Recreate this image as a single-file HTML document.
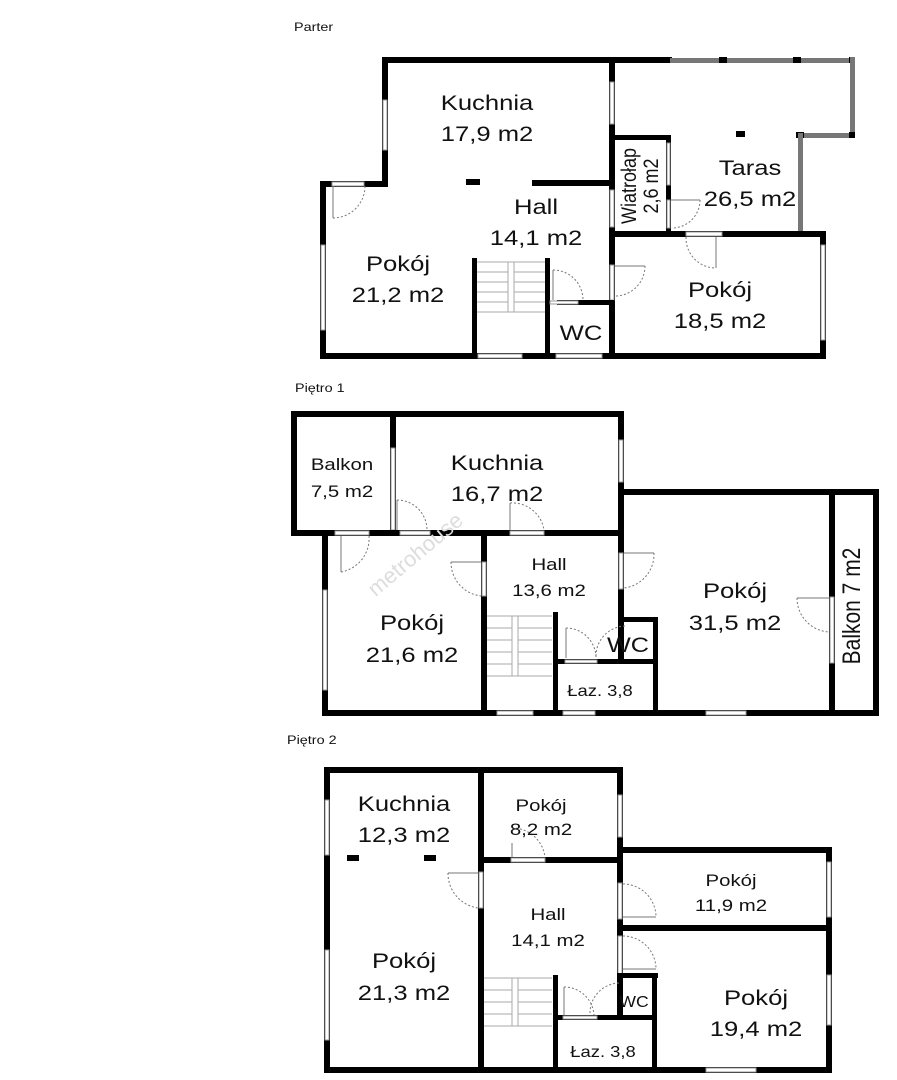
<!DOCTYPE html>
<html><head><meta charset="utf-8"><style>
html,body{margin:0;padding:0;background:#fff;}
svg{display:block;}
text{font-family:"Liberation Sans",Arial,sans-serif;fill:#111;}
.w{fill:#000}
.g{fill:#777}
.win{fill:#fff;stroke:#999;stroke-width:1}
.d{fill:none;stroke:#777;stroke-width:1;stroke-dasharray:2,2}
.dl{fill:none;stroke:#777;stroke-width:1}
</style></head><body>
<svg width="897" height="1080" viewBox="0 0 897 1080">
<text transform="translate(294,31) scale(1.2,1)" font-size="12">Parter</text>
<text transform="translate(295,392) scale(1.2,1)" font-size="12">Piętro 1</text>
<text transform="translate(287,744) scale(1.2,1)" font-size="12">Piętro 2</text>

<!-- PARTER -->
<rect class="w" x="382" y="57" width="290" height="6"/>
<rect class="g" x="670" y="58" width="185" height="5"/>
<rect class="w" x="719" y="57" width="8" height="6"/><rect class="w" x="793" y="57" width="8" height="6"/><rect class="w" x="849" y="57" width="6" height="6"/>
<rect class="g" x="850" y="57" width="5" height="80"/>
<rect class="g" x="798" y="133" width="57" height="5"/>
<rect class="w" x="849" y="132" width="6" height="6"/><rect class="w" x="796" y="132" width="8" height="6"/>
<rect class="g" x="798" y="133" width="5" height="100"/>
<rect class="w" x="736" y="131" width="9" height="6"/>
<rect class="w" x="382" y="57" width="6" height="130"/>
<rect class="win" x="383" y="100" width="4" height="50"/>
<rect class="w" x="320" y="181" width="68" height="6"/>
<rect class="win" x="332" y="182" width="32" height="4"/>
<rect class="w" x="320" y="181" width="6" height="178"/>
<rect class="win" x="321" y="245" width="4" height="85"/>
<rect class="w" x="320" y="353" width="506" height="6"/>
<rect class="win" x="478" y="354" width="44" height="4"/>
<rect class="win" x="556" y="354" width="46" height="4"/>
<rect class="w" x="609" y="57" width="6" height="302"/>
<rect class="win" x="610" y="82" width="4" height="42"/>
<rect class="win" x="610" y="190" width="4" height="37"/>
<rect class="win" x="610" y="265" width="4" height="35"/>
<rect class="w" x="532" y="180" width="80" height="6"/>
<rect class="w" x="466" y="179" width="14" height="6"/>
<rect class="w" x="609" y="135" width="62" height="5"/>
<rect class="w" x="666" y="135" width="5" height="100"/>
<rect class="win" x="667" y="143" width="3" height="42"/>
<rect class="win" x="667" y="200" width="3" height="28"/>
<rect class="w" x="609" y="231" width="217" height="6"/>
<rect class="win" x="686" y="232" width="36" height="4"/>
<rect class="w" x="820" y="231" width="6" height="128"/>
<rect class="win" x="821" y="245" width="4" height="95"/>
<rect class="w" x="472" y="258" width="5" height="100"/>
<rect class="w" x="545" y="258" width="5" height="100"/>
<rect class="w" x="557" y="300" width="57" height="5"/>
<rect class="win" x="550" y="301" width="28" height="3"/>
<g stroke="#aaa" stroke-width="1">
<line x1="477" y1="262" x2="545" y2="262"/><line x1="477" y1="272" x2="508" y2="272"/><line x1="477" y1="282" x2="508" y2="282"/><line x1="477" y1="292" x2="508" y2="292"/><line x1="477" y1="302" x2="508" y2="302"/><line x1="477" y1="312" x2="545" y2="312"/>
<line x1="514" y1="272" x2="545" y2="272"/><line x1="514" y1="282" x2="545" y2="282"/><line x1="514" y1="292" x2="545" y2="292"/><line x1="514" y1="302" x2="545" y2="302"/>
<rect x="508" y="262" width="6" height="50" fill="none"/>
</g>
<path class="dl" d="M333 186 V218"/><path class="d" d="M333 218 A32 32 0 0 0 365 186"/>
<path class="dl" d="M553 270 V300"/><path class="d" d="M553 270 A30 30 0 0 1 583 300"/>
<path class="dl" d="M615 266 H645"/><path class="d" d="M645 266 A30 30 0 0 1 615 296"/>
<path class="dl" d="M671 200 H700"/><path class="d" d="M700 200 A28 28 0 0 1 672 228"/>
<path class="dl" d="M716 237 V268"/><path class="d" d="M686 237 A30 30 0 0 0 716 268"/>
<g font-size="21" text-anchor="middle">
<text transform="translate(487,110) scale(1.22,1)">Kuchnia</text>
<text transform="translate(487,141) scale(1.22,1)">17,9 m2</text>
<text transform="translate(536,214) scale(1.22,1)">Hall</text>
<text transform="translate(536,245) scale(1.22,1)">14,1 m2</text>
<text transform="translate(398,271) scale(1.22,1)">Pokój</text>
<text transform="translate(398,302) scale(1.22,1)">21,2 m2</text>
<text transform="translate(581,340) scale(1.22,1)">WC</text>
<text transform="translate(750,175) scale(1.22,1)">Taras</text>
<text transform="translate(750,206) scale(1.22,1)">26,5 m2</text>
<text transform="translate(720,297) scale(1.22,1)">Pokój</text>
<text transform="translate(720,328) scale(1.22,1)">18,5 m2</text>
</g>
<text transform="translate(636,186) scale(1.2,1) rotate(-90)" font-size="18" text-anchor="middle">Wiatrołap</text>
<text transform="translate(658,186) scale(1.2,1) rotate(-90)" font-size="18" text-anchor="middle">2,6 m2</text>

<!-- PIETRO 1 -->
<rect class="w" x="291" y="411" width="333" height="6"/>
<rect class="w" x="291" y="411" width="6" height="124"/>
<rect class="w" x="390" y="411" width="6" height="124"/>
<rect class="win" x="391" y="448" width="4" height="82"/>
<rect class="w" x="291" y="530" width="333" height="6"/>
<rect class="win" x="335" y="531" width="34" height="4"/>
<rect class="win" x="400" y="531" width="30" height="4"/>
<rect class="win" x="510" y="531" width="34" height="4"/>
<rect class="w" x="618" y="411" width="6" height="252"/>
<rect class="win" x="619" y="440" width="4" height="42"/>
<rect class="win" x="619" y="553" width="4" height="36"/>
<rect class="w" x="618" y="489" width="260" height="6"/>
<rect class="w" x="873" y="489" width="6" height="227"/>
<rect class="w" x="829" y="489" width="6" height="227"/>
<rect class="win" x="830" y="597" width="4" height="66"/>
<rect class="w" x="322" y="710" width="557" height="6"/>
<rect class="win" x="497" y="711" width="36" height="4"/>
<rect class="win" x="563" y="711" width="32" height="4"/>
<rect class="win" x="706" y="711" width="40" height="4"/>
<rect class="w" x="322" y="530" width="6" height="186"/>
<rect class="win" x="323" y="590" width="4" height="100"/>
<rect class="w" x="481" y="535" width="6" height="181"/>
<rect class="win" x="482" y="562" width="4" height="34"/>
<rect class="w" x="618" y="617" width="40" height="5"/>
<rect class="w" x="653" y="617" width="5" height="99"/>
<rect class="w" x="557" y="659" width="100" height="5"/>
<rect class="win" x="565" y="660" width="32" height="3"/>
<rect class="w" x="553" y="612" width="5" height="104"/>
<g stroke="#aaa" stroke-width="1">
<line x1="487" y1="616" x2="552" y2="616"/><line x1="487" y1="628" x2="512" y2="628"/><line x1="487" y1="640" x2="512" y2="640"/><line x1="487" y1="652" x2="512" y2="652"/><line x1="487" y1="664" x2="512" y2="664"/><line x1="487" y1="676" x2="552" y2="676"/>
<line x1="518" y1="628" x2="552" y2="628"/><line x1="518" y1="640" x2="552" y2="640"/><line x1="518" y1="652" x2="552" y2="652"/><line x1="518" y1="664" x2="552" y2="664"/>
<rect x="512" y="616" width="6" height="60" fill="none"/>
</g>
<path class="dl" d="M397 500 V530"/><path class="d" d="M397 500 A30 30 0 0 1 427 530"/>
<path class="dl" d="M510 503 V530"/><path class="d" d="M510 503 A32 32 0 0 1 544 530"/>
<path class="dl" d="M341 536 V572"/><path class="d" d="M341 572 A34 34 0 0 0 369 536"/>
<path class="dl" d="M451 562 H481"/><path class="d" d="M451 562 A34 34 0 0 0 481 596"/>
<path class="dl" d="M624 553 H654"/><path class="d" d="M654 553 A34 34 0 0 1 624 588"/>
<path class="dl" d="M797 598 H829"/><path class="d" d="M797 598 A34 34 0 0 0 829 632"/>
<path class="dl" d="M566 628 V658"/><path class="d" d="M566 628 A30 30 0 0 1 596 658"/>
<path class="d" d="M596 656 A30 30 0 0 1 626 626"/>
<g text-anchor="middle">
<text transform="translate(342,470) scale(1.2,1)" font-size="17">Balkon</text>
<text transform="translate(342,497) scale(1.2,1)" font-size="17">7,5 m2</text>
<text transform="translate(497,470) scale(1.22,1)" font-size="21">Kuchnia</text>
<text transform="translate(497,501) scale(1.22,1)" font-size="21">16,7 m2</text>
<text transform="translate(549,570) scale(1.2,1)" font-size="17">Hall</text>
<text transform="translate(549,596) scale(1.2,1)" font-size="17">13,6 m2</text>
<text transform="translate(412,630) scale(1.22,1)" font-size="21">Pokój</text>
<text transform="translate(412,662) scale(1.22,1)" font-size="21">21,6 m2</text>
<text transform="translate(735,598) scale(1.22,1)" font-size="21">Pokój</text>
<text transform="translate(735,630) scale(1.22,1)" font-size="21">31,5 m2</text>
<text transform="translate(628,652) scale(1.2,1)" font-size="21">WC</text>
<text transform="translate(600,696) scale(1.15,1)" font-size="16">Łaz. 3,8</text>
<text transform="translate(860,606) scale(1.2,1) rotate(-90)" font-size="21">Balkon 7 m2</text>
</g>
<text transform="translate(420,560) rotate(-40)" font-size="22" style="fill:#ddd" text-anchor="middle">metrohouse</text>

<!-- PIETRO 2 -->
<rect class="w" x="324" y="767" width="298" height="6"/>
<rect class="w" x="324" y="767" width="6" height="305"/>
<rect class="win" x="325" y="800" width="4" height="55"/>
<rect class="win" x="325" y="950" width="4" height="90"/>
<rect class="w" x="478" y="767" width="6" height="305"/>
<rect class="win" x="479" y="872" width="4" height="36"/>
<rect class="w" x="617" y="767" width="6" height="252"/>
<rect class="win" x="618" y="795" width="4" height="42"/>
<rect class="win" x="618" y="883" width="4" height="36"/>
<rect class="win" x="618" y="936" width="4" height="38"/>
<rect class="w" x="478" y="857" width="144" height="6"/>
<rect class="win" x="511" y="858" width="34" height="4"/>
<rect class="w" x="617" y="847" width="214" height="6"/>
<rect class="w" x="826" y="847" width="6" height="225"/>
<rect class="win" x="827" y="862" width="4" height="55"/>
<rect class="win" x="827" y="975" width="4" height="50"/>
<rect class="w" x="617" y="925" width="215" height="6"/>
<rect class="w" x="324" y="1067" width="508" height="6"/>
<rect class="win" x="706" y="1068" width="50" height="4"/>
<rect class="w" x="617" y="973" width="41" height="5"/>
<rect class="w" x="652" y="973" width="5" height="99"/>
<rect class="w" x="556" y="1015" width="101" height="5"/>
<rect class="win" x="563" y="1016" width="34" height="3"/>
<rect class="w" x="553" y="975" width="5" height="97"/>
<rect class="w" x="347" y="855" width="12" height="6"/>
<rect class="w" x="424" y="855" width="12" height="6"/>
<g stroke="#aaa" stroke-width="1">
<line x1="484" y1="978" x2="552" y2="978"/><line x1="484" y1="990" x2="512" y2="990"/><line x1="484" y1="1002" x2="512" y2="1002"/><line x1="484" y1="1014" x2="512" y2="1014"/><line x1="484" y1="1026" x2="552" y2="1026"/>
<line x1="518" y1="990" x2="552" y2="990"/><line x1="518" y1="1002" x2="552" y2="1002"/><line x1="518" y1="1014" x2="552" y2="1014"/>
<rect x="512" y="978" width="6" height="48" fill="none"/>
</g>
<path class="dl" d="M448 873 H478"/><path class="d" d="M448 873 A35 35 0 0 0 478 908"/>
<path class="dl" d="M512 843 V857"/><path class="d" d="M512 828 A33 33 0 0 1 545 857"/>
<path class="dl" d="M623 917 H656"/><path class="d" d="M623 884 A33 33 0 0 1 656 917"/>
<path class="dl" d="M623 969 H656"/><path class="d" d="M623 936 A33 33 0 0 1 656 969"/>
<path class="dl" d="M564 987 V1015"/><path class="d" d="M564 987 A30 30 0 0 1 594 1015"/>
<path class="d" d="M590 1013 A30 30 0 0 1 620 983"/>
<g text-anchor="middle">
<text transform="translate(404,811) scale(1.22,1)" font-size="21">Kuchnia</text>
<text transform="translate(404,842) scale(1.22,1)" font-size="21">12,3 m2</text>
<text transform="translate(541,811) scale(1.2,1)" font-size="17">Pokój</text>
<text transform="translate(541,835) scale(1.2,1)" font-size="17">8,2 m2</text>
<text transform="translate(548,920) scale(1.2,1)" font-size="17">Hall</text>
<text transform="translate(548,946) scale(1.2,1)" font-size="17">14,1 m2</text>
<text transform="translate(404,968) scale(1.22,1)" font-size="21">Pokój</text>
<text transform="translate(404,1000) scale(1.22,1)" font-size="21">21,3 m2</text>
<text transform="translate(731,886) scale(1.2,1)" font-size="17">Pokój</text>
<text transform="translate(731,911) scale(1.2,1)" font-size="17">11,9 m2</text>
<text transform="translate(756,1005) scale(1.22,1)" font-size="21">Pokój</text>
<text transform="translate(756,1036) scale(1.22,1)" font-size="21">19,4 m2</text>
<text transform="translate(634,1007) scale(1.1,1)" font-size="16">WC</text>
<text transform="translate(603,1057) scale(1.15,1)" font-size="16">Łaz. 3,8</text>
</g>
</svg>
</body></html>
